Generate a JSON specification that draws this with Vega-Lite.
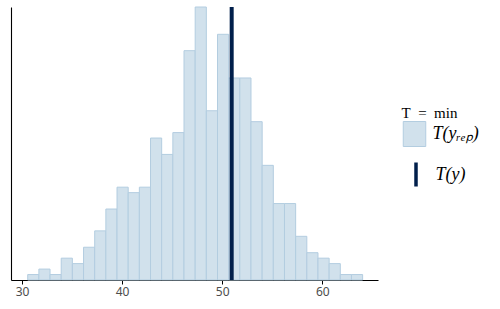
{
  "$schema": "https://vega.github.io/schema/vega-lite/v6.json",
  "width": 367,
  "height": 273,
  "autosize": "none",
  "padding": {"left": 11, "top": 7, "right": 122, "bottom": 29},
  "background": "white",
  "config": {
    "view": {"stroke": null},
    "legend": {"titleFont": "Liberation Serif", "labelFont": "Liberation Serif"}
  },
  "datasets": {
    "bins": [
      {"bin_start": 30.570, "bin_end": 31.686, "count": 1, "series": "T(yᵣₑₚ)"},
      {"bin_start": 31.686, "bin_end": 32.801, "count": 2, "series": "T(yᵣₑₚ)"},
      {"bin_start": 32.801, "bin_end": 33.917, "count": 1, "series": "T(yᵣₑₚ)"},
      {"bin_start": 33.917, "bin_end": 35.032, "count": 4, "series": "T(yᵣₑₚ)"},
      {"bin_start": 35.032, "bin_end": 36.148, "count": 3, "series": "T(yᵣₑₚ)"},
      {"bin_start": 36.148, "bin_end": 37.263, "count": 6, "series": "T(yᵣₑₚ)"},
      {"bin_start": 37.263, "bin_end": 38.379, "count": 9, "series": "T(yᵣₑₚ)"},
      {"bin_start": 38.379, "bin_end": 39.494, "count": 13, "series": "T(yᵣₑₚ)"},
      {"bin_start": 39.494, "bin_end": 40.610, "count": 17, "series": "T(yᵣₑₚ)"},
      {"bin_start": 40.610, "bin_end": 41.725, "count": 16, "series": "T(yᵣₑₚ)"},
      {"bin_start": 41.725, "bin_end": 42.841, "count": 17, "series": "T(yᵣₑₚ)"},
      {"bin_start": 42.841, "bin_end": 43.956, "count": 26, "series": "T(yᵣₑₚ)"},
      {"bin_start": 43.956, "bin_end": 45.072, "count": 23, "series": "T(yᵣₑₚ)"},
      {"bin_start": 45.072, "bin_end": 46.187, "count": 27, "series": "T(yᵣₑₚ)"},
      {"bin_start": 46.187, "bin_end": 47.303, "count": 42, "series": "T(yᵣₑₚ)"},
      {"bin_start": 47.303, "bin_end": 48.418, "count": 50, "series": "T(yᵣₑₚ)"},
      {"bin_start": 48.418, "bin_end": 49.534, "count": 31, "series": "T(yᵣₑₚ)"},
      {"bin_start": 49.534, "bin_end": 50.649, "count": 45, "series": "T(yᵣₑₚ)"},
      {"bin_start": 50.649, "bin_end": 51.765, "count": 37, "series": "T(yᵣₑₚ)"},
      {"bin_start": 51.765, "bin_end": 52.880, "count": 37, "series": "T(yᵣₑₚ)"},
      {"bin_start": 52.880, "bin_end": 53.996, "count": 29, "series": "T(yᵣₑₚ)"},
      {"bin_start": 53.996, "bin_end": 55.111, "count": 21, "series": "T(yᵣₑₚ)"},
      {"bin_start": 55.111, "bin_end": 56.227, "count": 14, "series": "T(yᵣₑₚ)"},
      {"bin_start": 56.227, "bin_end": 57.342, "count": 14, "series": "T(yᵣₑₚ)"},
      {"bin_start": 57.342, "bin_end": 58.458, "count": 8, "series": "T(yᵣₑₚ)"},
      {"bin_start": 58.458, "bin_end": 59.573, "count": 5, "series": "T(yᵣₑₚ)"},
      {"bin_start": 59.573, "bin_end": 60.689, "count": 4, "series": "T(yᵣₑₚ)"},
      {"bin_start": 60.689, "bin_end": 61.804, "count": 3, "series": "T(yᵣₑₚ)"},
      {"bin_start": 61.804, "bin_end": 62.920, "count": 1, "series": "T(yᵣₑₚ)"},
      {"bin_start": 62.920, "bin_end": 64.035, "count": 1, "series": "T(yᵣₑₚ)"}
    ],
    "observed": [
      {"stat": 50.95, "series": "T(y)"}
    ]
  },
  "layer": [
    {
      "data": {"name": "bins"},
      "mark": {"type": "bar", "stroke": "#b3cde0", "strokeWidth": 1},
      "encoding": {
        "x": {
          "field": "bin_start", "type": "quantitative",
          "scale": {"domain": [28.9, 65.57], "nice": false, "zero": false},
          "axis": {
            "title": null, "values": [30, 40, 50, 60], "grid": false,
            "domainColor": "black", "domainWidth": 1.1,
            "tickColor": "black", "tickWidth": 1, "tickSize": 4,
            "labelColor": "#4d4d4d", "labelFont": "Noto Sans", "labelFontSize": 12,
            "labelPadding": 2
          }
        },
        "x2": {"field": "bin_end"},
        "y": {
          "field": "count", "type": "quantitative",
          "scale": {"domain": [0, 50], "nice": false},
          "axis": {
            "title": null, "labels": false, "ticks": false, "grid": false,
            "domainColor": "black", "domainWidth": 1.1
          }
        },
        "y2": {"datum": 0},
        "fill": {
          "field": "series", "type": "nominal",
          "scale": {"domain": ["T(yᵣₑₚ)"], "range": ["#d1e1ec"]},
          "legend": {
            "title": "T\u2002=\u2002min",
            "orient": "none",
            "legendX": 390.5,
            "legendY": 99,
            "padding": 0,
            "titleFont": "Liberation Serif",
            "titleFontSize": 15,
            "titleFontWeight": "normal",
            "titleColor": "black",
            "titlePadding": 0,
            "labelFont": "Liberation Serif",
            "labelFontSize": 18,
            "labelFontStyle": "italic",
            "labelColor": "black",
            "labelOffset": 5,
            "symbolType": "M-0.9,-1H0.9V1H-0.9Z",
            "symbolSize": 625,
            "symbolStrokeColor": "#b3cde0",
            "symbolStrokeWidth": 1,
            "symbolOpacity": 1
          }
        }
      }
    },
    {
      "data": {"name": "observed"},
      "mark": {"type": "rule", "strokeWidth": 4},
      "encoding": {
        "x": {"field": "stat", "type": "quantitative"},
        "stroke": {
          "field": "series", "type": "nominal",
          "scale": {"domain": ["T(y)"], "range": ["#011f4b"]},
          "legend": {
            "title": null,
            "orient": "none",
            "legendX": 390.5,
            "legendY": 153,
            "padding": 0,
            "labelFont": "Liberation Serif",
            "labelFontSize": 18,
            "labelFontStyle": "italic",
            "labelColor": "black",
            "labelOffset": 5,
            "symbolType": "M0,-0.96L0,0.96",
            "symbolSize": 625,
            "symbolStrokeWidth": 3.5,
            "symbolOpacity": 1
          }
        }
      }
    }
  ]
}
